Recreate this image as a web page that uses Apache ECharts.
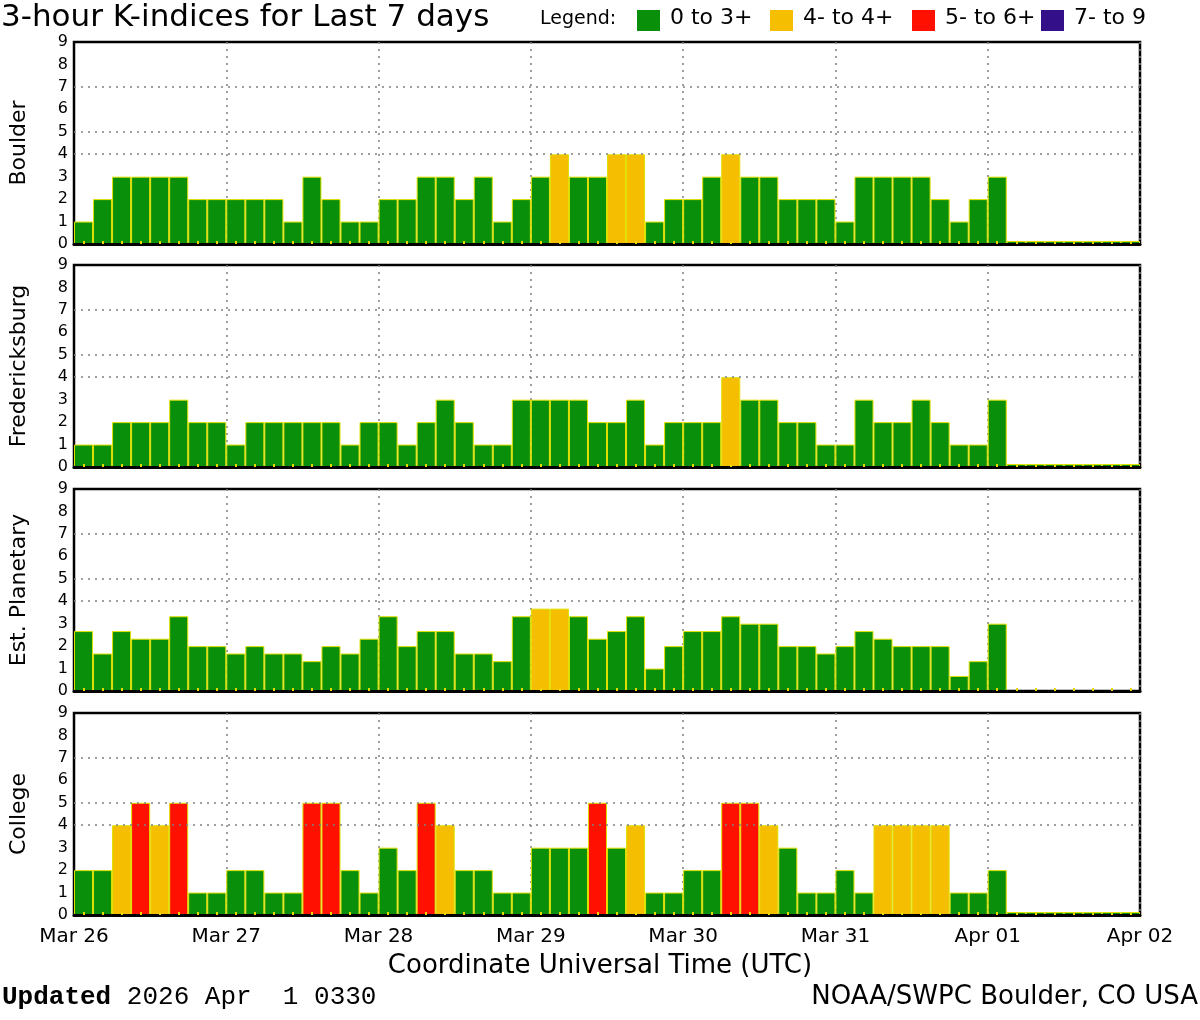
<!DOCTYPE html>
<html><head><meta charset="utf-8">
<script src="https://cdn.jsdelivr.net/npm/echarts@6/dist/echarts.min.js"></script>
<style>html,body{margin:0;padding:0;background:#fff}#c{width:1200px;height:1020px}</style>
</head><body><div id="c"></div>
<script>
// ---- data ----
const dayLabels = ['Mar 26','Mar 27','Mar 28','Mar 29','Mar 30','Mar 31','Apr 01','Apr 02'];
const hourLabels = ['00','03','06','09','12','15','18','21'];
const yTickLabels = ['0','1','2','3','4','5','6','7','8','9'];
const stationNames = ['Boulder','Fredericksburg','Est. Planetary','College'];
const legendLabels = ['0 to 3+','4- to 4+','5- to 6+','7- to 9'];

const boulder = [1,2,3,3,3,3,2,2, 2,2,2,1,3,2,1,1, 2,2,3,3,2,3,1,2, 3,4,3,3,4,4,1,2,
                 2,3,4,3,3,2,2,2, 1,3,3,3,3,2,1,2, 3,0,0,0,0,0,0,0];
const fredericksburg = [1,1,2,2,2,3,2,2, 1,2,2,2,2,2,1,2, 2,1,2,3,2,1,1,3, 3,3,3,2,2,3,1,2,
                 2,2,4,3,3,2,2,1, 1,3,2,2,3,2,1,1, 3,0,0,0,0,0,0,0];
const estPlanetary = [2.67,1.67,2.67,2.33,2.33,3.33,2,2, 1.67,2,1.67,1.67,1.33,2,1.67,2.33,
                 3.33,2,2.67,2.67,1.67,1.67,1.33,3.33, 3.67,3.67,3.33,2.33,2.67,3.33,1,2,
                 2.67,2.67,3.33,3,3,2,2,1.67, 2,2.67,2.33,2,2,2,0.67,1.33,
                 3,null,null,null,null,null,null,null];
const college = [2,2,4,5,4,5,1,1, 2,2,1,1,5,5,2,1, 3,2,5,4,2,2,1,1, 3,3,3,5,3,4,1,1,
                 2,2,5,5,4,3,1,1, 2,1,4,4,4,4,1,1, 2,0,0,0,0,0,0,0];
const gridLevels = [4,5,7];

const categories = [];
dayLabels.slice(0,7).forEach(d => hourLabels.forEach(h => categories.push(d + ' ' + h)));
const stationData = [boulder, fredericksburg, estPlanetary, college];

// ---- styles ----
const C_GREEN = '#0a8f0a', C_YELLOW = '#f5be00', C_RED = '#ff1000', C_PURPLE = '#33108a';
const legendColors = [C_GREEN, C_YELLOW, C_RED, C_PURPLE];
function kColor(v){
  if (v == null) return 'transparent';
  if (v < 3.5) return C_GREEN;
  if (v < 4.5) return C_YELLOW;
  if (v < 6.5) return C_RED;
  return C_PURPLE;
}
const FONT = 'DejaVu Sans';
const tops = [42, 265, 489, 713];
const H = 202;
const dotted = {color:'#808080', type:[2,5], width:1.5};

const grids = [], xAxes = [], yAxes = [], series = [];
stationNames.forEach((name, i) => {
  grids.push({left:73, width:1067, top:tops[i], height:H, show:true, borderColor:'#000', borderWidth:2.5, backgroundColor:'#fff'});
  xAxes.push({gridIndex:i, type:'value', min:0, max:7, interval:1, position:'bottom',
    axisLine:{show:false}, axisTick:{show:false},
    splitLine:{show:true, lineStyle:dotted},
    axisLabel:{show:i===3, margin:12, color:'#000', fontFamily:FONT, fontSize:20,
      showMinLabel:true, showMaxLabel:true, formatter:v => dayLabels[v]}
  });
  xAxes.push({gridIndex:i, type:'category', data:categories, position:'bottom', z:10,
    boundaryGap:true,
    axisLine:{show:true, lineStyle:{color:'#000', width:3}},
    axisTick:{show:true, inside:true, length:3, alignWithLabel:true, interval:0, lineStyle:{color:'#e8d800', width:2}},
    axisLabel:{show:false}, splitLine:{show:false}
  });
  yAxes.push({gridIndex:i, type:'value', min:0, max:9, interval:1,
    name:name, nameLocation:'middle', nameRotate:90, nameGap:44,
    nameTextStyle:{color:'#000', fontFamily:FONT, fontSize:22},
    axisLine:{show:true, lineStyle:{color:'#000', width:2}}, axisTick:{show:false},
    splitLine:{show:false},
    axisLabel:{color:'#000', fontFamily:FONT, fontSize:16, margin:6, formatter:v => yTickLabels[v]}
  });
  series.push({type:'bar', xAxisIndex:2*i+1, yAxisIndex:i, data:stationData[i],
    barCategoryGap:0, barMinHeight:3, silent:true, animation:false,
    itemStyle:{color:p => kColor(p.value), borderColor:'#e0e000', borderWidth:1},
    markLine:{silent:true, symbol:['none','none'], label:{show:false}, lineStyle:dotted,
      animation:false, data:gridLevels.map(v => ({yAxis:v}))}
  });
});

const graphics = [
  {type:'text', left:1, top:2, style:{text:'3-hour K-indices for Last 7 days', fontFamily:FONT, fontSize:31, fill:'#000'}},
  {type:'text', left:540, top:10, style:{text:'Legend:', fontFamily:FONT, fontSize:19, fill:'#000'}}
];
const legX = [637, 770, 912, 1041];
legendLabels.forEach((t, i) => {
  graphics.push({type:'rect', left:legX[i], top:10, shape:{width:23, height:21}, style:{fill:legendColors[i]}});
  graphics.push({type:'text', left:legX[i]+33, top:7, style:{text:t, fontFamily:FONT, fontSize:22, fill:'#000'}});
});
graphics.push({type:'text', left:'center', top:953, style:{text:'Coordinate Universal Time (UTC)', fontFamily:FONT, fontSize:26, fill:'#000'}});
graphics.push({type:'text', left:2, top:984, style:{
  text:'{b|Updated} 2026 Apr  1 0330', fontFamily:'Liberation Mono', fontSize:26, fill:'#000',
  rich:{b:{fontFamily:'Liberation Mono', fontSize:26, fontWeight:'bold', fill:'#000'}}}});
graphics.push({type:'text', right:2, top:984, style:{text:'NOAA/SWPC Boulder, CO USA', fontFamily:FONT, fontSize:26, fill:'#000'}});

const chart = echarts.init(document.getElementById('c'), null, {renderer:'canvas'});
chart.setOption({
  animation:false, backgroundColor:'#fff',
  grid:grids, xAxis:xAxes, yAxis:yAxes, series:series, graphic:graphics
});
</script></body></html>
